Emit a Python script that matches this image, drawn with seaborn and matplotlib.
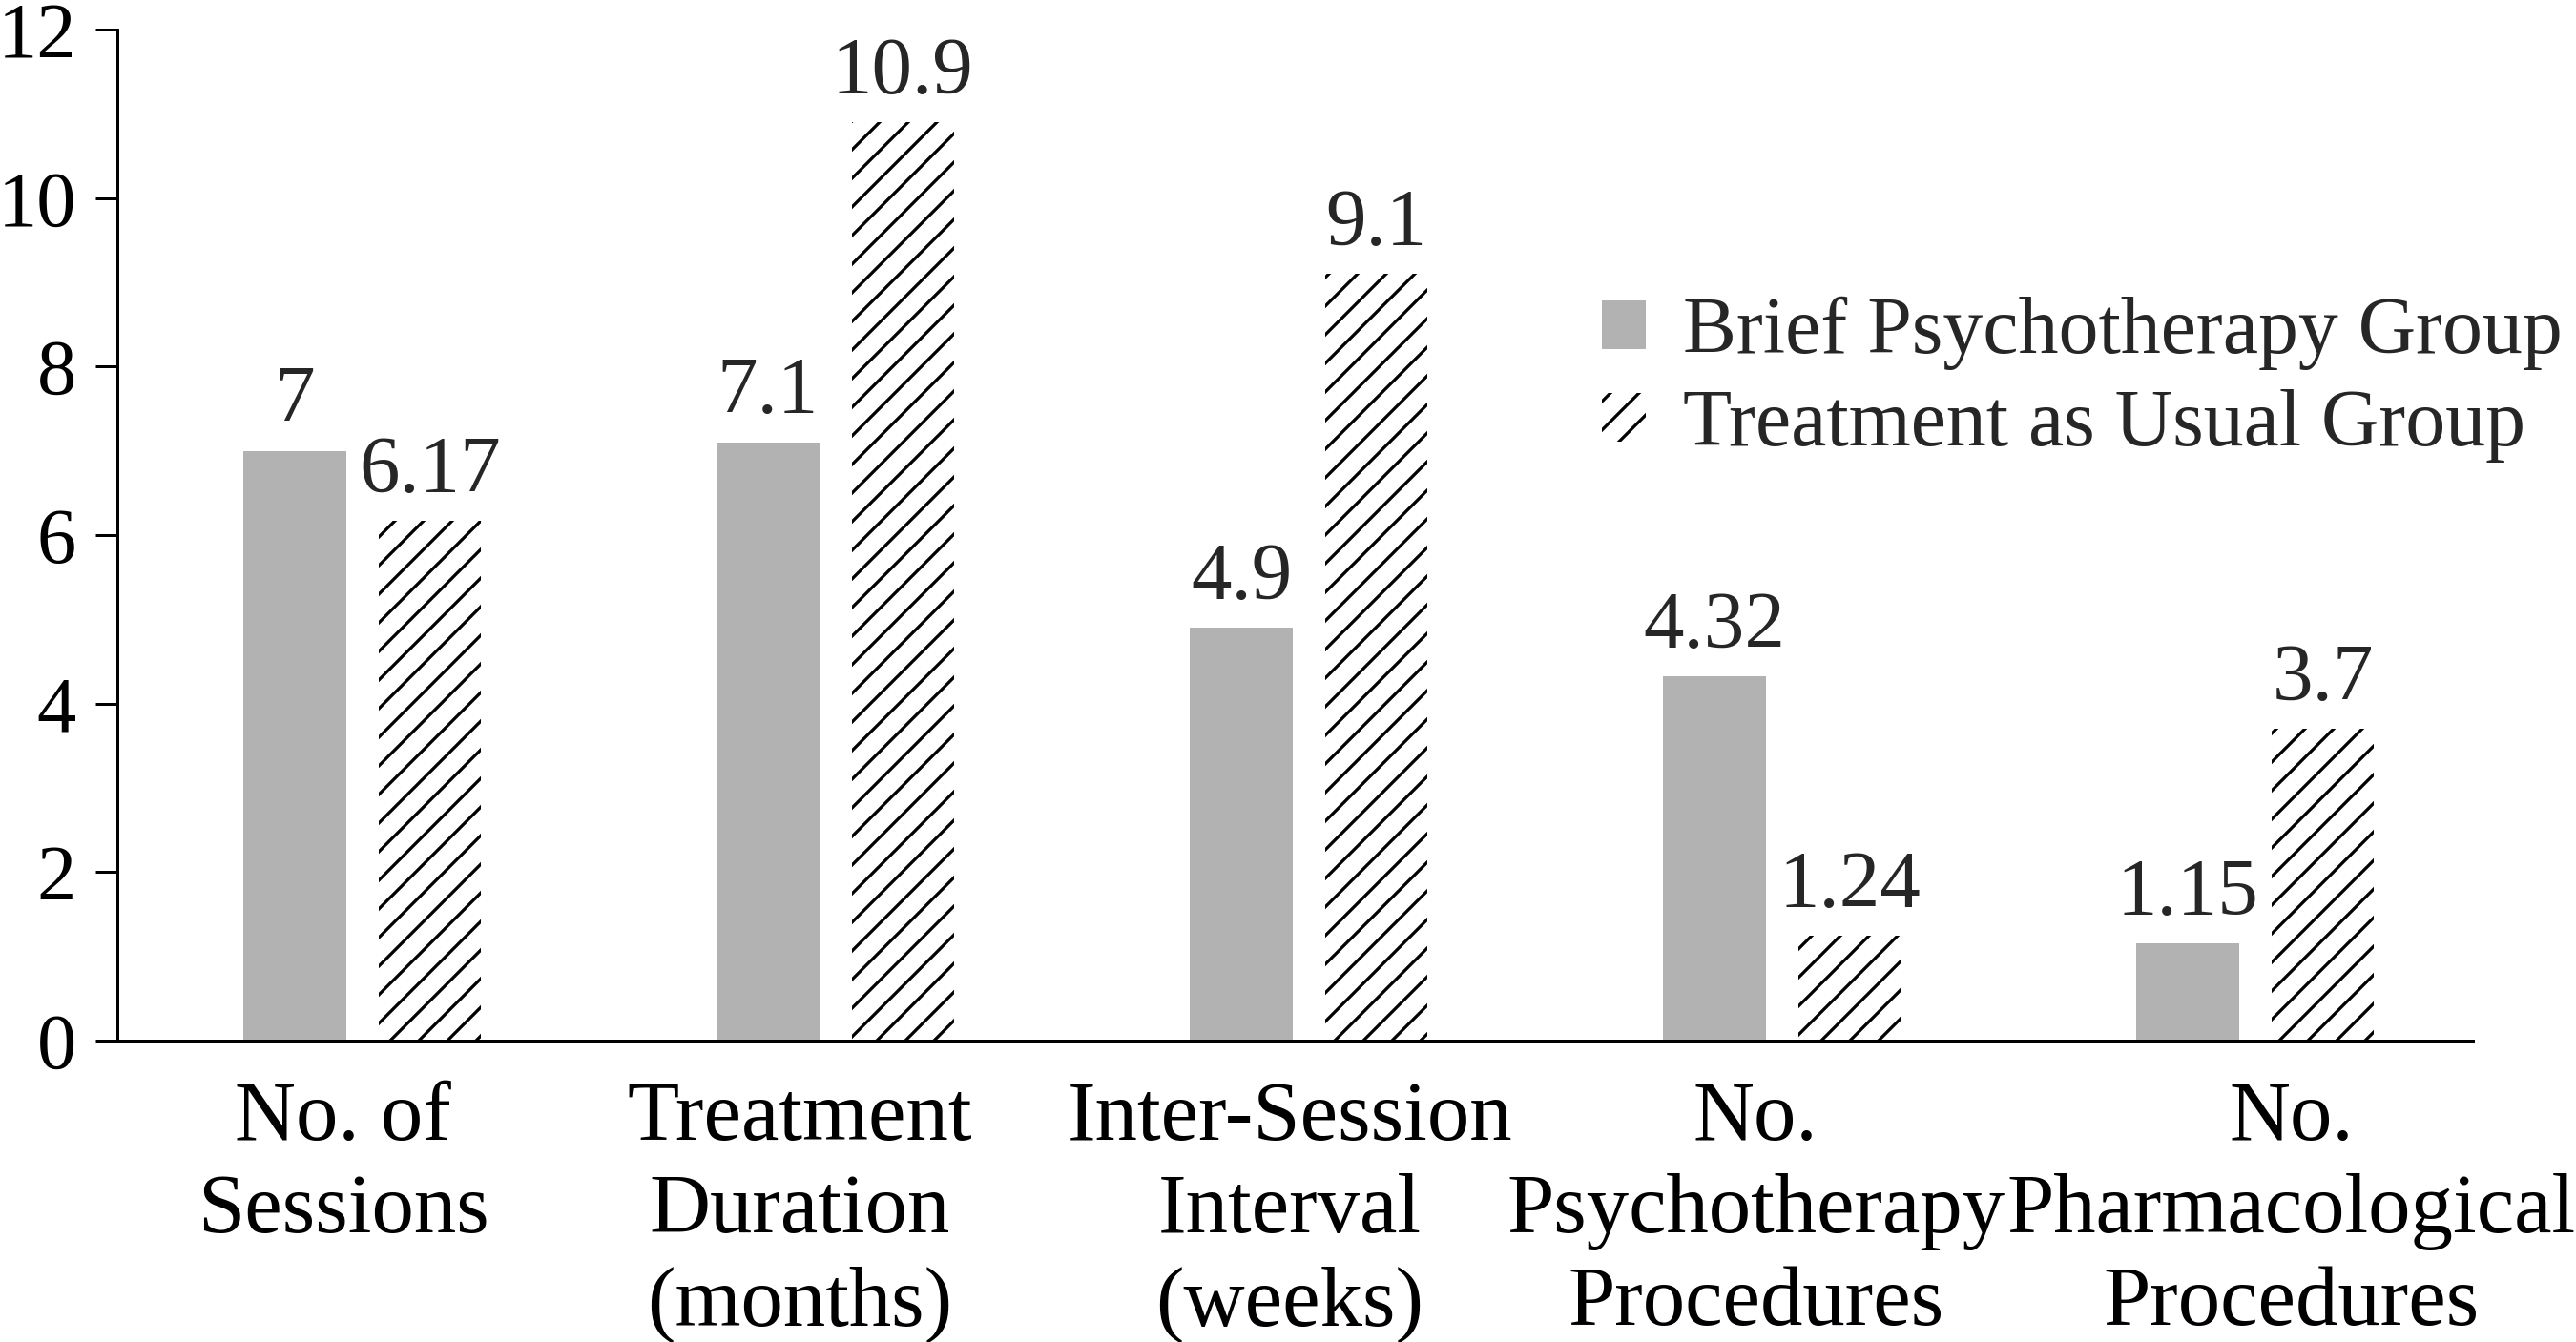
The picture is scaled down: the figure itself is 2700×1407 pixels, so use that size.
#Imports
import pandas as pd
import matplotlib.pyplot as plt
import matplotlib.transforms as mtransforms
import seaborn as sns
from matplotlib.patches import Patch

#Chart data
measures = ['No. of\nSessions', 'Treatment\nDuration\n(months)', 'Inter-Session\nInterval\n(weeks)',
            'No.\nPsychotherapy\nProcedures', 'No.\nPharmacological\nProcedures']
groups = ['Brief Psychotherapy Group', 'Treatment as Usual Group']
brief_values = [7, 7.1, 4.9, 4.32, 1.15]
usual_values = [6.17, 10.9, 9.1, 1.24, 3.7]
brief_labels = ['7', '7.1', '4.9', '4.32', '1.15']
usual_labels = ['6.17', '10.9', '9.1', '1.24', '3.7']
y_ticks = [0, 2, 4, 6, 8, 10, 12]

#Long format for seaborn
df = pd.DataFrame({
    'measure': measures * 2,
    'group': [groups[0]] * len(measures) + [groups[1]] * len(measures),
    'value': brief_values + usual_values,
})

sns.set_style('ticks')
plt.rcParams['font.family'] = ['Liberation Serif', 'DejaVu Serif']
plt.rcParams['hatch.linewidth'] = 1.3

gray = '#b2b2b2'
dpi = 180
fig = plt.figure(figsize=(2700 / dpi, 1407 / dpi), dpi=dpi)
ax = fig.add_axes([0.0456, 0.2248, 0.9144, 0.7529])

sns.barplot(data=df, x='measure', y='value', hue='group', order=measures, hue_order=groups,
            palette=[gray, 'white'], width=0.57, gap=0.24, linewidth=0, legend=False, ax=ax)

#Hatch the treatment-as-usual bars
for bar in ax.containers[1]:
    bar.set_hatch('//')
    bar.set_edgecolor('black')
    bar.set_linewidth(0)

ax.bar_label(ax.containers[0], labels=brief_labels, padding=5, fontsize=34)
ax.bar_label(ax.containers[1], labels=usual_labels, padding=5, fontsize=34)

#Axes styling
ax.set_ylim(0, 12)
ax.set_xlim(-0.517, 4.46)
ax.set_yticks(y_ticks)
ax.set_xlabel('')
ax.set_ylabel('')
sns.despine(ax=ax)
for side in ['left', 'bottom']:
    ax.spines[side].set_linewidth(1.2)
    ax.spines[side].set_color('black')
ax.tick_params(axis='y', length=9.2, width=1.2, pad=8, labelsize=33, colors='black')
ax.tick_params(axis='x', length=0, pad=17, labelsize=35.5, colors='black')

#Nudge the category labels sideways like in the original layout (points)
label_shift = [-8, -15, -8, -11, 15]
for lbl, dx in zip(ax.get_xticklabels(), label_shift):
    lbl.set_linespacing(1.26)
    lbl.set_transform(lbl.get_transform() + mtransforms.ScaledTranslation(dx / 72, 0, fig.dpi_scale_trans))

#Legend
handles = [Patch(facecolor=gray, edgecolor=gray, linewidth=0),
           Patch(facecolor='white', edgecolor='black', hatch='//', linewidth=0)]
fig.legend(handles=handles, labels=groups, loc='upper left', bbox_to_anchor=(0.622, 0.779),
           frameon=False, fontsize=33.5, handlelength=0.55, handleheight=0.55,
           handletextpad=0.46, labelspacing=0.24, borderpad=0, borderaxespad=0)

fig.savefig('out.png', dpi=dpi)
plt.close()
